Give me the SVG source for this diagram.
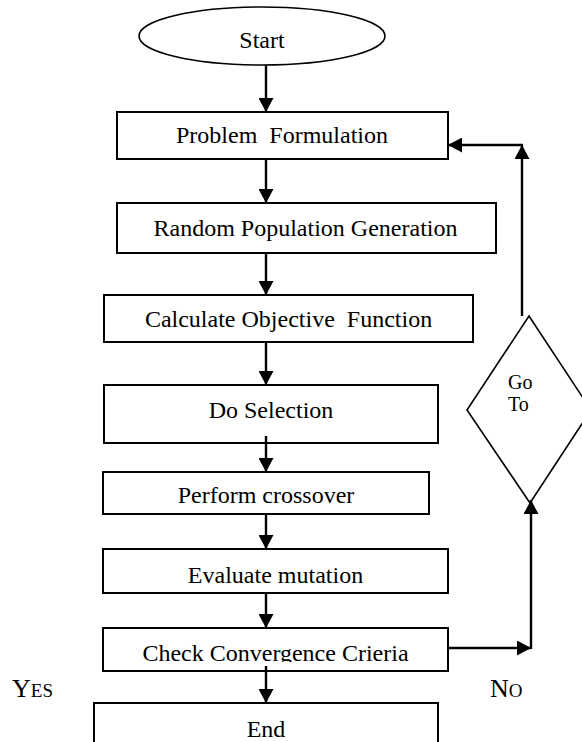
<svg xmlns="http://www.w3.org/2000/svg" width="582" height="742" viewBox="0 0 582 742">
<style>
.box{fill:#fff;stroke:#000;stroke-width:2}
.shape{fill:#fff;stroke:#000;stroke-width:1.6}
text{font-family:"Liberation Serif","Times New Roman",Times,serif;fill:#000}
.lbl{font-size:24px;text-anchor:middle}
.small{font-size:20px}
.con{fill:none;stroke:#000;stroke-width:2.4;marker-end:url(#ah)}
</style>
<defs>
<marker id="ah" markerUnits="userSpaceOnUse" markerWidth="15" markerHeight="15" refX="14" refY="7.5" orient="auto">
<path d="M0,0 L14,7.5 L0,15 z" fill="#000"/>
</marker>
<clipPath id="clipCheck"><rect x="100" y="628" width="350" height="34"/></clipPath>
</defs>
<rect width="582" height="742" fill="#fff"/>

<g id="start">
<ellipse class="shape" cx="262" cy="36" rx="123" ry="29"/>
<text class="lbl" x="262" y="48" font-family="Liberation Serif, serif">Start</text>
</g>
<g id="problem">
<rect class="box" x="117" y="112" width="331" height="47"/>
<text class="lbl" x="282" y="143" font-family="Liberation Serif, serif" xml:space="preserve">Problem  Formulation</text>
</g>
<g id="random">
<rect class="box" x="117" y="203" width="379" height="50"/>
<text class="lbl" x="305.5" y="236" font-family="Liberation Serif, serif">Random Population Generation</text>
</g>
<g id="calc">
<rect class="box" x="104" y="295" width="369" height="47"/>
<text class="lbl" x="288.5" y="327" font-family="Liberation Serif, serif" xml:space="preserve">Calculate Objective  Function</text>
</g>
<g id="selection">
<rect class="box" x="104" y="385" width="334" height="58"/>
<text class="lbl" x="271" y="418" font-family="Liberation Serif, serif">Do Selection</text>
</g>
<g id="crossover">
<rect class="box" x="103" y="472" width="326" height="42"/>
<text class="lbl" x="266" y="503" font-family="Liberation Serif, serif">Perform crossover</text>
</g>
<g id="mutation">
<rect class="box" x="103" y="549" width="345" height="44"/>
<text class="lbl" x="275.5" y="583" font-family="Liberation Serif, serif">Evaluate mutation</text>
</g>
<g id="check">
<rect class="box" x="103" y="628" width="345" height="43"/>
<text class="lbl" x="275.5" y="661" font-family="Liberation Serif, serif" clip-path="url(#clipCheck)">Check Convergence Crieria</text>
</g>
<g id="end">
<rect class="box" x="94" y="703" width="344" height="60"/>
<text class="lbl" x="266" y="737" font-family="Liberation Serif, serif">End</text>
</g>
<g id="goto">
<polygon class="shape" points="529,316 591,410 530,503 467,410"/>
<text class="small" x="508" y="389" font-family="Liberation Serif, serif">Go</text>
<text class="small" x="508" y="411" font-family="Liberation Serif, serif">To</text>
</g>
<g id="yes">
<text x="12" y="697" font-family="Liberation Serif, serif"><tspan font-size="26">Y</tspan><tspan font-size="19">ES</tspan></text>
</g>
<g id="no">
<text x="490" y="697" font-family="Liberation Serif, serif"><tspan font-size="26">N</tspan><tspan font-size="19">O</tspan></text>
</g>

<g id="connectors">
<line class="con" x1="266" y1="65" x2="266" y2="112"/>
<line class="con" x1="266" y1="159" x2="266" y2="203"/>
<line class="con" x1="266" y1="253" x2="266" y2="295"/>
<line class="con" x1="266" y1="342" x2="266" y2="385"/>
<line class="con" x1="266" y1="436" x2="266" y2="472"/>
<line class="con" x1="266" y1="514" x2="266" y2="549"/>
<line class="con" x1="266" y1="593" x2="266" y2="628"/>
<line class="con" x1="266" y1="666" x2="266" y2="703"/>
<line class="con" x1="448" y1="648" x2="531" y2="648"/>
<line class="con" x1="531" y1="649" x2="531" y2="500"/>
<line class="con" x1="522" y1="316" x2="522" y2="145"/>
<line class="con" x1="523" y1="145" x2="448" y2="145"/>
</g>
</svg>
